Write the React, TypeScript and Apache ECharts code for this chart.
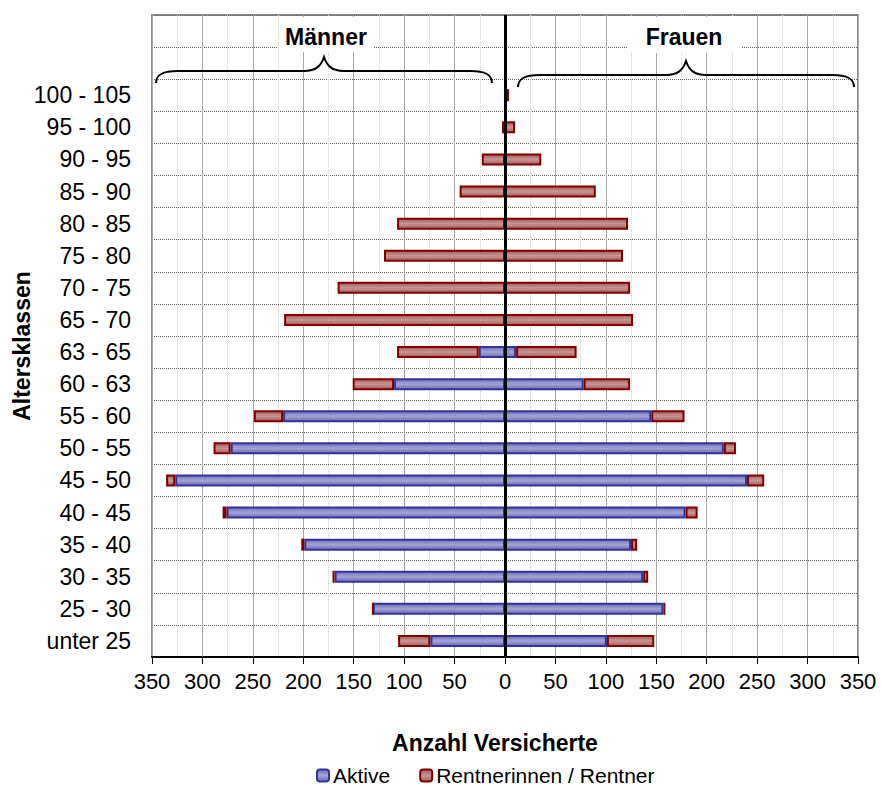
import React, { useEffect, useRef } from "react";
import * as echarts from "echarts";

const ageClasses = [
  "unter 25", "25 - 30", "30 - 35", "35 - 40", "40 - 45", "45 - 50", "50 - 55", "55 - 60",
  "60 - 63", "63 - 65", "65 - 70", "70 - 75", "75 - 80", "80 - 85", "85 - 90", "90 - 95",
  "95 - 100", "100 - 105",
];
const menActive = [74, 131, 169, 199, 276, 327, 272, 220, 110, 26, 0, 0, 0, 0, 0, 0, 0, 0];
const menRetired = [32, 0, 2, 3, 4, 9, 17, 29, 41, 81, 219, 166, 120, 107, 45, 23, 3, 0];
const womenActive = [101, 157, 137, 125, 179, 240, 217, 145, 78, 11, 0, 0, 0, 0, 0, 0, 0, 0];
const womenRetired = [47, 2, 5, 6, 12, 17, 12, 33, 46, 60, 127, 124, 117, 122, 90, 36, 10, 4];
const xTicks = { min: -350, max: 350, interval: 50 };
const groupLabels = ["Männer", "Frauen"];
const legendLabels = ["Aktive", "Rentnerinnen / Rentner"];
const xTitle = "Anzahl Versicherte";
const yTitle = "Altersklassen";

const bracePath =
  "M0,26 C0,18 6,14 22,14 L148,14 C160,14 165,9 168,0 C171,9 176,14 188,14 L314,14 C330,14 336,18 336,26";

let registered = false;

export default function App() {
  const ref = useRef<HTMLDivElement>(null);
  useEffect(() => {
    if (!registered) {
      echarts.graphic.registerShape("brace", echarts.graphic.extendPath(bracePath, {}));
      registered = true;
    }
    const chart = echarts.init(ref.current!, null, { renderer: "svg" });
    const font = "Liberation Sans, Arial, sans-serif";
    const blue = {
      color: new echarts.graphic.LinearGradient(0, 0, 0, 1, [
        { offset: 0, color: "#6c6cb4" },
        { offset: 0.5, color: "#a4a4da" },
        { offset: 1, color: "#6c6cb4" },
      ]),
      borderColor: "#333399",
      borderWidth: 2,
    };
    const red = {
      color: new echarts.graphic.LinearGradient(0, 0, 0, 1, [
        { offset: 0, color: "#a85c5c" },
        { offset: 0.5, color: "#c89494" },
        { offset: 1, color: "#a85c5c" },
      ]),
      borderColor: "#800000",
      borderWidth: 2,
    };
    const cats = [...ageClasses, "", ""];
    const neg = (a: number[]) => a.map((v) => -v);
    const barCommon = { type: "bar", barWidth: 12, barGap: "-100%" };
    chart.setOption({
      animation: false,
      textStyle: { fontFamily: font },
      grid: {
        left: 152, right: 24, top: 15, bottom: 130,
        show: true, borderColor: "#8c8c8c", borderWidth: 2,
      },
      legend: {
        left: 316, top: 765, padding: 0, itemWidth: 12, itemHeight: 12, itemGap: 29,
        textStyle: { fontSize: 21, color: "#000", padding: [0, 0, 0, -1] },
        data: legendLabels,
      },
      xAxis: {
        type: "value",
        min: xTicks.min, max: xTicks.max, interval: xTicks.interval,
        axisLine: { show: true, lineStyle: { color: "#000", width: 2 } },
        axisTick: { show: true, length: 7, lineStyle: { color: "#000" } },
        axisLabel: {
          fontSize: 22, color: "#000", margin: 13,
          formatter: (v: number) => String(Math.abs(v)),
        },
        splitLine: { show: true, lineStyle: { color: "#a8a8a8", width: 1 } },
        minorTick: { show: false, splitNumber: 2 },
        minorSplitLine: { show: true, lineStyle: { color: "#cfcfcf", type: "dotted" } },
      },
      yAxis: {
        type: "category",
        data: cats,
        axisLine: { show: true, lineStyle: { color: "#8c8c8c", width: 2 } },
        axisTick: { show: false },
        axisLabel: { fontSize: 23, color: "#000", margin: 21 },
        splitLine: { show: true, lineStyle: { color: "#666", type: "dotted", width: 1 } },
      },
      series: [
        { ...barCommon, name: legendLabels[0], stack: "m", data: neg(menActive), itemStyle: blue },
        { ...barCommon, name: legendLabels[1], stack: "m", data: neg(menRetired), itemStyle: red },
        { ...barCommon, name: legendLabels[0], stack: "w", data: womenActive, itemStyle: blue },
        {
          ...barCommon, name: legendLabels[1], stack: "w", data: womenRetired, itemStyle: red,
          markLine: {
            silent: true, symbol: ["none", "none"], label: { show: false },
            lineStyle: { color: "#000", width: 3, type: "solid" },
            data: [{ xAxis: 0 }],
          },
        },
      ],
      graphic: [
        { type: "rect", shape: { x: 280, y: 17, width: 93, height: 35 }, style: { fill: "#fff" }, z: 10 },
        { type: "rect", shape: { x: 627, y: 17, width: 115, height: 36 }, style: { fill: "#fff" }, z: 10 },
        {
          type: "text", x: 326, y: 37, z: 11,
          style: { text: groupLabels[0], font: `bold 23px ${font}`, fill: "#000", align: "center", verticalAlign: "middle" },
        },
        {
          type: "text", x: 684, y: 37, z: 11,
          style: { text: groupLabels[1], font: `bold 23px ${font}`, fill: "#000", align: "center", verticalAlign: "middle" },
        },
        { type: "brace", x: 156, y: 57, z: 11, style: { fill: "none", stroke: "#000", lineWidth: 2 } },
        { type: "brace", x: 518, y: 61, z: 11, style: { fill: "none", stroke: "#000", lineWidth: 2 } },
        {
          type: "text", x: 495, y: 743, z: 11,
          style: { text: xTitle, font: `bold 23px ${font}`, fill: "#000", align: "center", verticalAlign: "middle" },
        },
        {
          type: "text", x: 22, y: 346, rotation: Math.PI / 2, z: 11,
          style: { text: yTitle, font: `bold 23px ${font}`, fill: "#000", align: "center", verticalAlign: "middle" },
        },
      ],
    });
    return () => chart.dispose();
  }, []);
  return (
    <div
      ref={ref}
      style={{ position: "fixed", left: 0, top: 0, width: 882, height: 787, background: "#fff" }}
    />
  );
}
